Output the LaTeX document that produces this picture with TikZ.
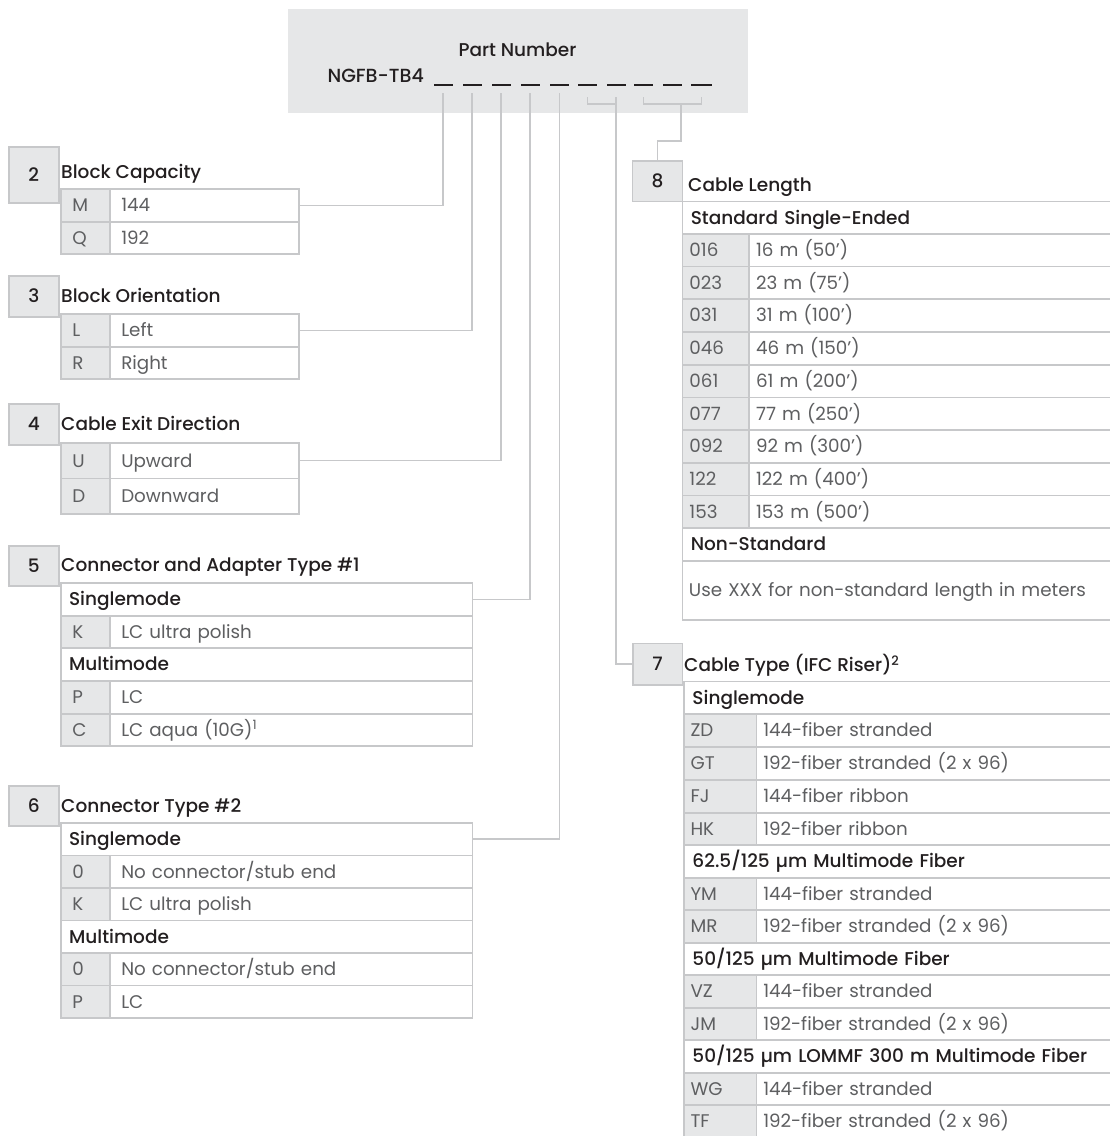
\documentclass[tikz,border=0pt]{standalone}
\usepackage{fontspec}
\setmainfont{Poppins}[BoldFont={Poppins Medium}]
\definecolor{lc}{HTML}{C7C8CA}
\definecolor{cf}{HTML}{E6E7E8}
\definecolor{tc}{HTML}{5E5F61}
\definecolor{hc}{HTML}{231F20}
\newcommand\bodyfont{\fontsize{18.3}{21}\selectfont}
\newcommand\headfont{\fontsize{18.5}{21}\selectfont\bfseries}
\tikzset{
 conn/.style={draw=lc, line width=1.5pt},
 cellbase/.style={draw=lc, line width=1.5pt, anchor=north west, inner ysep=0pt, text height=13pt, text depth=0pt, align=left},
 codecell/.style={cellbase, fill=cf, text=tc, font=\bodyfont},
 desccell/.style={cellbase, fill=white, text=tc, font=\bodyfont},
 hdrcell/.style={cellbase, fill=white, text=hc, font=\headfont},
 badge/.style={draw=lc, fill=cf, line width=1.5pt, anchor=north west, inner sep=0pt, text height=13pt, text depth=0pt, text=hc, font=\headfont},
 ttl/.style={anchor=west, inner sep=0pt, text height=13pt, text depth=0pt, text=hc, font=\headfont},
 dashbar/.style={fill=hc, inner sep=0pt, minimum width=19pt, minimum height=1.8pt},
}
% #1 name, #2 xl, #3 xsep, #4 xr, #5 ytop, #6 ybot, #7 pad, #8 code, #9 desc
\newcommand\trow[9]{%
 \pgfmathsetmacro\cwa{#3-#2-2*#7}%
 \pgfmathsetmacro\cwb{#4-#3-2*#7}%
 \pgfmathsetmacro\crh{#6-#5}%
 \node[codecell, inner xsep=#7pt, text width=\cwa pt, minimum height=\crh pt] (#1c) at (#2,#5) {#8};
 \node[desccell, inner xsep=#7pt, text width=\cwb pt, minimum height=\crh pt] (#1d) at (#3,#5) {#9};
}
% #1 name, #2 xl, #3 xr, #4 ytop, #5 ybot, #6 pad, #7 text
\newcommand\hrow[7]{%
 \pgfmathsetmacro\cwa{#3-#2-2*#6}%
 \pgfmathsetmacro\crh{#5-#4}%
 \node[hdrcell, inner xsep=#6pt, text width=\cwa pt, minimum height=\crh pt] (#1) at (#2,#4) {#7};
}
\begin{document}
\begin{tikzpicture}[x=1pt, y=-1pt]
\fill[white] (0,0) rectangle (1110,1136);
\useasboundingbox (0,0) rectangle (1110,1136);

% part number box
\node[fill=cf, anchor=north west, minimum width=460pt, minimum height=104pt, inner sep=0pt] (pnbox) at (288,9) {};
\node[ttl, anchor=center] (pnt) at (517.5,50) {Part Number};
\node[ttl, anchor=east, font=\fontsize{19}{21}\selectfont\bfseries] (ngfb) at (424,75.5) {NGFB-TB4};
\node[dashbar] (d1) at (443,85) {};
\node[dashbar] (d2) at (472,85) {};
\node[dashbar] (d3) at (501,85) {};
\node[dashbar] (d4) at (530,85) {};
\node[dashbar] (d5) at (559.5,85) {};
\node[dashbar] (d6) at (587.5,85) {};
\node[dashbar] (d7) at (616,85) {};
\node[dashbar] (d8) at (643.5,85) {};
\node[dashbar] (d9) at (672.5,85) {};
\node[dashbar, minimum width=21pt] (d10) at (701.5,85) {};

% table 2
\node[badge, minimum width=50pt, minimum height=56pt] (b2) at (8,146) {2};
\node[ttl] (ti2) at (61,172) {Block Capacity};
\trow{t2a}{60}{109}{298}{188}{221}{11.5}{M}{144}
\trow{t2b}{60}{109}{298}{221}{253}{11.5}{Q}{192}

% table 3
\node[badge, minimum width=50pt, minimum height=41pt] (b3) at (8,275) {3};
\node[ttl] (ti3) at (61,296) {Block Orientation};
\trow{t3a}{60}{109}{298}{313}{346}{11.5}{L}{Left}
\trow{t3b}{60}{109}{298}{346}{378}{11.5}{R}{Right}

% table 4
\node[badge, minimum width=50pt, minimum height=41pt] (b4) at (8,403) {4};
\node[ttl] (ti4) at (61,424) {Cable Exit Direction};
\trow{t4a}{60}{109}{298}{442}{477.5}{11.5}{U}{Upward}
\trow{t4b}{60}{109}{298}{477.5}{513}{11.5}{D}{Downward}

% table 5
\node[badge, minimum width=50pt, minimum height=40pt] (b5) at (8,545) {5};
\node[ttl] (ti5) at (61,565) {Connector and Adapter Type \#1};
\hrow{t5h1}{60}{471.5}{582}{615}{8.3}{Singlemode}
\trow{t5a}{60}{109}{471.5}{615}{647}{11.5}{K}{LC ultra polish}
\hrow{t5h2}{60}{471.5}{647}{680}{8.3}{Multimode}
\trow{t5b}{60}{109}{471.5}{680}{713}{11.5}{P}{LC}
\trow{t5c}{60}{109}{471.5}{713}{745}{11.5}{C}{LC aqua (10G)\textsuperscript{1}}

% table 6
\node[badge, minimum width=50pt, minimum height=40pt] (b6) at (8,785) {6};
\node[ttl] (ti6) at (61,806) {Connector Type \#2};
\hrow{t6h1}{60}{471.5}{822}{854.5}{8.3}{Singlemode}
\trow{t6a}{60}{109}{471.5}{854.5}{887}{11.5}{0}{No connector/stub end}
\trow{t6b}{60}{109}{471.5}{887}{919.5}{11.5}{K}{LC ultra polish}
\hrow{t6h2}{60}{471.5}{919.5}{952}{8.3}{Multimode}
\trow{t6c}{60}{109}{471.5}{952}{984.5}{11.5}{0}{No connector/stub end}
\trow{t6d}{60}{109}{471.5}{984.5}{1017}{11.5}{P}{LC}

% table 8
\node[badge, minimum width=50pt, minimum height=40.7pt] (b8) at (631.7,160) {8};
\node[ttl] (ti8) at (688,185) {Cable Length};
\hrow{t8h1}{681.7}{1113}{200.7}{233}{8.3}{Standard Single-Ended}
\trow{t8a}{681.7}{748.3}{1113}{233}{265.7}{7}{016}{16 m (50’)}
\trow{t8b}{681.7}{748.3}{1113}{265.7}{298}{7}{023}{23 m (75’)}
\trow{t8c}{681.7}{748.3}{1113}{298}{331}{7}{031}{31 m (100’)}
\trow{t8d}{681.7}{748.3}{1113}{331}{364}{7}{046}{46 m (150’)}
\trow{t8e}{681.7}{748.3}{1113}{364}{396.5}{7}{061}{61 m (200’)}
\trow{t8f}{681.7}{748.3}{1113}{396.5}{429}{7}{077}{77 m (250’)}
\trow{t8g}{681.7}{748.3}{1113}{429}{462}{7}{092}{92 m (300’)}
\trow{t8h}{681.7}{748.3}{1113}{462}{494.5}{7}{122}{122 m (400’)}
\trow{t8i}{681.7}{748.3}{1113}{494.5}{527}{7}{153}{153 m (500’)}
\hrow{t8h2}{681.7}{1113}{527}{560}{8.3}{Non-Standard}
\node[desccell, inner xsep=6.5pt, text width=418pt, minimum height=59pt] (t8x) at (681.7,560) {Use XXX for non-standard length in meters};

% table 7
\node[badge, minimum width=49.7pt, minimum height=41.3pt] (b7) at (632,642.7) {7};
\node[ttl] (ti7) at (684,665) {Cable Type (IFC Riser)\textsuperscript{2}};
\hrow{t7h1}{683}{1113}{680.7}{713}{8.7}{Singlemode}
\trow{t7a}{683}{755.7}{1113}{713}{746}{6.8}{ZD}{144-fiber stranded}
\trow{t7b}{683}{755.7}{1113}{746}{779}{6.8}{GT}{192-fiber stranded (2 x 96)}
\trow{t7c}{683}{755.7}{1113}{779}{812}{6.8}{FJ}{144-fiber ribbon}
\trow{t7d}{683}{755.7}{1113}{812}{844}{6.8}{HK}{192-fiber ribbon}
\hrow{t7h2}{683}{1113}{844}{877}{8.7}{62.5/125 µm Multimode Fiber}
\trow{t7e}{683}{755.7}{1113}{877}{909}{6.8}{YM}{144-fiber stranded}
\trow{t7f}{683}{755.7}{1113}{909}{942}{6.8}{MR}{192-fiber stranded (2 x 96)}
\hrow{t7h3}{683}{1113}{942}{974}{8.7}{50/125 µm Multimode Fiber}
\trow{t7g}{683}{755.7}{1113}{974}{1007}{6.8}{VZ}{144-fiber stranded}
\trow{t7h}{683}{755.7}{1113}{1007}{1039}{6.8}{JM}{192-fiber stranded (2 x 96)}
\hrow{t7h4}{683}{1113}{1039}{1072}{8.7}{50/125 µm LOMMF 300 m Multimode Fiber}
\trow{t7i}{683}{755.7}{1113}{1072}{1104}{6.8}{WG}{144-fiber stranded}
\trow{t7j}{683}{755.7}{1113}{1104}{1137}{6.8}{TF}{192-fiber stranded (2 x 96)}

% connectors
\draw[conn] ([yshift=-8pt]d1.center) |- (t2ad.east);
\draw[conn] ([yshift=-8pt]d2.center) |- (t3ad.east);
\draw[conn] ([yshift=-8pt]d3.center) |- (t4ad.east);
\draw[conn] ([yshift=-8pt]d4.center) |- (t5h1.east);
\draw[conn] ([yshift=-8pt]d5.center) |- (t6h1.east);
\draw[conn] ([yshift=-12pt]d6.center) |- ([yshift=-19pt]d7.center);
\draw[conn] ([yshift=-12pt]d7.center) |- (b7.west);
\draw[conn] ([yshift=-12pt]d8.center) |- ([yshift=-19pt]d10.center) -- ([yshift=-12pt]d10.center);
\coordinate (j8) at (681,104);
\coordinate (j8b) at (681,141);
\draw[conn] (j8) -- (j8b) -| (b8.north);
\end{tikzpicture}
\end{document}
